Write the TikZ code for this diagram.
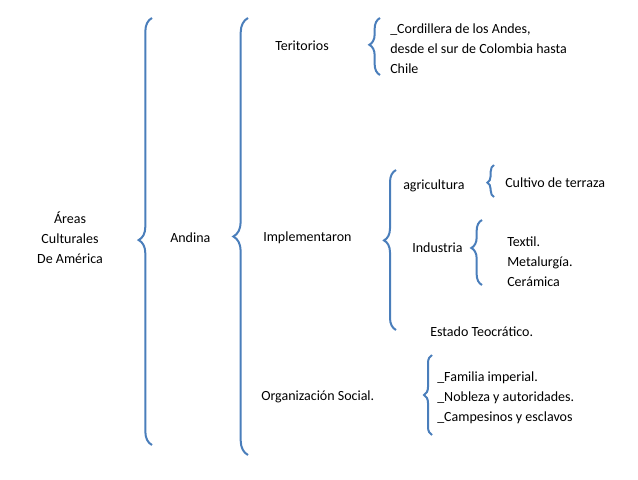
\documentclass[tikz,border=0pt]{standalone}
\usepackage{fontspec}
\setmainfont{Carlito}
\usetikzlibrary{decorations.pathreplacing}
\definecolor{braceblue}{RGB}{74,126,187}
\tikzset{
  lbl/.style={anchor=west,inner sep=0pt,font=\fontsize{10.5}{15}\selectfont,align=left},
  brc/.style={draw=braceblue,line width=1.5pt,decorate,decoration={brace,amplitude=#1}}
}
\begin{document}
\begin{tikzpicture}[x=0.75pt,y=0.75pt,yscale=-1,xscale=1]
        \useasboundingbox (0,0) rectangle (638,479);

        % Braces
        \draw [brc=10pt,decoration={aspect=0.48}] (152,445) -- (152,18) ;
        \draw [brc=11pt,decoration={aspect=0.5}] (248,455) -- (248,18) ;
        \draw [brc=8pt,decoration={aspect=0.53}] (380,75) -- (380,18) ;
        \draw [brc=9pt,decoration={aspect=0.56}] (396,330) -- (396,170) ;
        \draw [brc=5pt,decoration={aspect=0.45}] (494,197) -- (494,165) ;
        \draw [brc=8pt,decoration={aspect=0.57}] (482,285) -- (482,220) ;
        \draw [brc=6pt,decoration={aspect=0.5}] (432,435) -- (432,355) ;

        % Text Nodes
        \node [lbl,anchor=center,align=center] (areas) at (70,238) {Áreas\\Culturales\\De América};
        \node [lbl] (andina) at (170,238) {Andina};
        \node [lbl] (terit) at (275,46) {Teritorios};
        \node [lbl] (impl) at (263,238) {Implementaron};
        \node [lbl] (orgsoc) at (261,397) {Organización Social.};
        \node [lbl] (cordill) at (390,49) {\_Cordillera de los Andes,\\desde el sur de Colombia hasta\\Chile};
        \node [lbl] (agric) at (403,186) {agricultura};
        \node [lbl] (terraza) at (505,183) {Cultivo de terraza};
        \node [lbl] (indus) at (412,248) {Industria};
        \node [lbl] (textil) at (507,262) {Textil.\\Metalurgía.\\Cerámica};
        \node [lbl] (estado) at (430,332) {Estado Teocrático.};
        \node [lbl] (familia) at (437,398) {\_Familia imperial.\\\_Nobleza y autoridades.\\\_Campesinos y esclavos};
\end{tikzpicture}
\end{document}
